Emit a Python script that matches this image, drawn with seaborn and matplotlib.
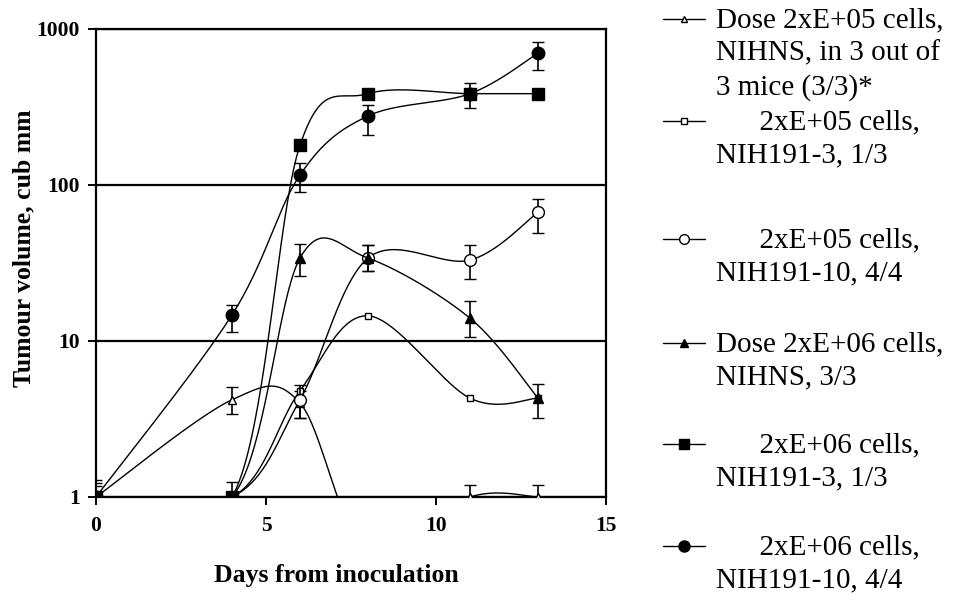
import numpy as np
import pandas as pd
import matplotlib
matplotlib.use("Agg")
import matplotlib.pyplot as plt
import seaborn as sns
from matplotlib.lines import Line2D
from matplotlib.font_manager import FontProperties
from matplotlib.ticker import NullLocator

# ---------------- data ----------------
days = [0, 4, 6, 8, 11, 13]

a_vals = [1.0, 4.2, 4.0, 0.45, 1.0, 1.0]         # Dose 2xE+05 NIHNS (open triangle)
a_lo   = [0.0, 0.8, 0.8, 0.0, 0.0, 0.0]
a_hi   = [0.18, 0.9, 0.8, 0.0, 0.2, 0.2]

b_vals = [1.0, 1.0, 4.8, 14.5, 4.3, 4.3]         # 2xE+05 NIH191-3 (open square)

c_vals = [1.0, 1.0, 4.2, 34.0, 33.0, 67.0]       # 2xE+05 NIH191-10 (open circle)
c_lo   = [0.0, 0.0, 1.0, 6.0, 8.0, 18.0]
c_hi   = [0.28, 0.25, 1.0, 7.0, 8.0, 14.0]

d_vals = [1.0, 1.0, 34.0, 34.0, 14.0, 4.3]       # Dose 2xE+06 NIHNS (filled triangle)
d_lo   = [0.0, 0.0, 8.0, 6.0, 3.4, 1.1]
d_hi   = [0.0, 0.0, 8.0, 7.0, 4.0, 1.0]

e_vals = [1.0, 1.0, 180.0, 385.0, 385.0, 385.0]  # 2xE+06 NIH191-3 (filled square)

f_vals = [1.0, 14.7, 116.0, 277.0, 385.0, 700.0] # 2xE+06 NIH191-10 (filled circle)
f_lo   = [0.0, 3.2, 26.0, 68.0, 75.0, 150.0]
f_hi   = [0.23, 2.4, 22.0, 50.0, 65.0, 120.0]

labels = [
    "Dose 2xE+05 cells,\nNIHNS, in 3 out of\n3 mice (3/3)*",
    "      2xE+05 cells,\nNIH191-3, 1/3",
    "      2xE+05 cells,\nNIH191-10, 4/4",
    "Dose 2xE+06 cells,\nNIHNS, 3/3",
    "      2xE+06 cells,\nNIH191-3, 1/3",
    "      2xE+06 cells,\nNIH191-10, 4/4",
]

x_ticks = [0, 5, 10, 15]
y_ticks = [1, 10, 100, 1000]
y_tick_labels = ["1", "10", "100", "1000"]

# ---------------- style ----------------
sns.set_theme(style="white")
plt.rcParams["font.family"] = ["Liberation Serif", "DejaVu Serif"]

W, H, DPI = 977, 594, 100
fig = plt.figure(figsize=(W / DPI, H / DPI), dpi=DPI)
ax_l, ax_r, ax_t, ax_b = 96, 606, 29, 497
ax = fig.add_axes([ax_l / W, 1 - ax_b / H, (ax_r - ax_l) / W, (ax_b - ax_t) / H])
ax.set_yscale("log")
ax.set_xlim(0, 15)
ax.set_ylim(1, 1000)

PX_X = (ax_r - ax_l) / 15.0
PX_Y = (ax_b - ax_t) / 3.0


def excel_smooth(xs, ys, n=40):
    """Excel-like smoothed line (Bezier through points, tension 1/6) in display space."""
    P = np.column_stack([np.asarray(xs, float) * PX_X,
                         np.log10(np.asarray(ys, float)) * PX_Y])
    out = []
    m = len(P)
    t = np.linspace(0, 1, n)[:, None]
    for i in range(m - 1):
        p0 = P[i - 1] if i > 0 else P[i]
        p1, p2 = P[i], P[i + 1]
        p3 = P[i + 2] if i + 2 < m else P[i + 1]
        c1 = p1 + (p2 - p0) / 6.0
        c2 = p2 - (p3 - p1) / 6.0
        seg = ((1 - t) ** 3) * p1 + 3 * ((1 - t) ** 2) * t * c1 + 3 * (1 - t) * t ** 2 * c2 + t ** 3 * p2
        out.append(seg if i == 0 else seg[1:])
    S = np.vstack(out)
    return S[:, 0] / PX_X, 10 ** (S[:, 1] / PX_Y)


series = [
    dict(v=a_vals, lo=a_lo, hi=a_hi, m="^", ms=6, fc="white"),
    dict(v=b_vals, lo=None, hi=None, m="s", ms=4.5, fc="white"),
    dict(v=c_vals, lo=c_lo, hi=c_hi, m="o", ms=8.5, fc="white"),
    dict(v=d_vals, lo=d_lo, hi=d_hi, m="^", ms=6.5, fc="black"),
    dict(v=e_vals, lo=None, hi=None, m="s", ms=9, fc="black"),
    dict(v=f_vals, lo=f_lo, hi=f_hi, m="o", ms=9, fc="black"),
]

for k, s in enumerate(series):
    sx, sy = excel_smooth(days, s["v"])
    df = pd.DataFrame({"day": sx, "vol": sy})
    sns.lineplot(data=df, x="day", y="vol", ax=ax, sort=False, estimator=None,
                 color="black", lw=1.0, zorder=3 + k)
    yerr = None if s["lo"] is None else [s["lo"], s["hi"]]
    ax.errorbar(days, s["v"], yerr=yerr, fmt=s["m"], ms=s["ms"], mfc=s["fc"],
                mec="black", mew=1.0, ecolor="black", elinewidth=1.2,
                capsize=4, capthick=1.2, zorder=3.5 + k, clip_on=True)

# axes cosmetics
ax.yaxis.set_minor_locator(NullLocator())
ax.set_xticks(x_ticks)
ax.set_yticks(y_ticks)
ax.set_yticklabels(y_tick_labels)
ax.set_xlim(0, 15)
ax.set_ylim(1, 1000)
ax.grid(False)
ax.grid(axis="y", which="major", color="black", lw=1.6, zorder=1)
for sp in ax.spines.values():
    sp.set_visible(True)
    sp.set_color("black")
    sp.set_linewidth(1.6)
ax.tick_params(axis="both", which="major", direction="out", length=5.5, width=1.4,
               color="black", labelsize=15.5, labelcolor="black", left=True, bottom=True)
ax.tick_params(axis="x", pad=8)
ax.tick_params(axis="y", pad=6)
for lab in ax.get_xticklabels() + ax.get_yticklabels():
    lab.set_fontweight("bold")

ax.set_xlabel("Days from inoculation", fontsize=18.5, fontweight="bold", color="black")
ax.set_ylabel("Tumour volume, cub mm", fontsize=18.5, fontweight="bold", color="black")
ax.xaxis.set_label_coords((336 - ax_l) / (ax_r - ax_l), (ax_b - 564) / (ax_b - ax_t))
ax.yaxis.set_label_coords((35 - ax_l) / (ax_r - ax_l), (ax_b - 248) / (ax_b - ax_t))

# ---------------- legend (one block per entry) ----------------
LEG_FS = 21
fp = FontProperties(family=["Liberation Serif", "DejaVu Serif"], size=LEG_FS)
STEP_PX = 35.0

first_line_px = [18, 120, 238, 342, 443, 545]
handle_specs = [("^", 5, "white"), ("s", 4, "white"), ("o", 7, "white"),
                ("^", 5.5, "black"), ("s", 7.5, "black"), ("o", 8, "black")]

legends = []
for lab, c_px, (mk, ms, fc) in zip(labels, first_line_px, handle_specs):
    h = Line2D([], [], color="black", lw=1.0, marker=mk, ms=ms, mfc=fc, mec="black", mew=1.0)
    top_px = c_px - 11
    leg = fig.legend(handles=[h], labels=[lab], loc="upper left",
                     bbox_to_anchor=(663 / W, 1 - top_px / H), frameon=False,
                     borderpad=0, borderaxespad=0, handlelength=1.45,
                     handletextpad=0.37, prop=fp)
    leg.get_texts()[0].set_color("black")
    legends.append(leg)

# calibrate line spacing so consecutive lines are STEP_PX apart
BASE_LS = 1.2
for leg in legends:
    leg.get_texts()[0].set_linespacing(BASE_LS)
fig.canvas.draw()
renderer = fig.canvas.get_renderer()
_, lp_h, lp_d = renderer.get_text_width_height_descent("lp", fp, ismath=False)
t0 = legends[0].get_texts()[0]
ext = t0.get_window_extent(renderer)
step0 = (ext.height - lp_h) / 2.0
ls = BASE_LS * STEP_PX / step0

for leg, lab in zip(legends, labels):
    txt = leg.get_texts()[0]
    txt.set_linespacing(ls)
    nlines = lab.count("\n") + 1
    if nlines > 1:
        shift_pt = ((nlines - 1) * STEP_PX) / 2.0 * 72.0 / DPI
        lh = leg.legend_handles[0]
        lh.set_ydata(np.asarray(lh.get_ydata()) + shift_pt)

fig.savefig("out.png", dpi=DPI, facecolor="white")
